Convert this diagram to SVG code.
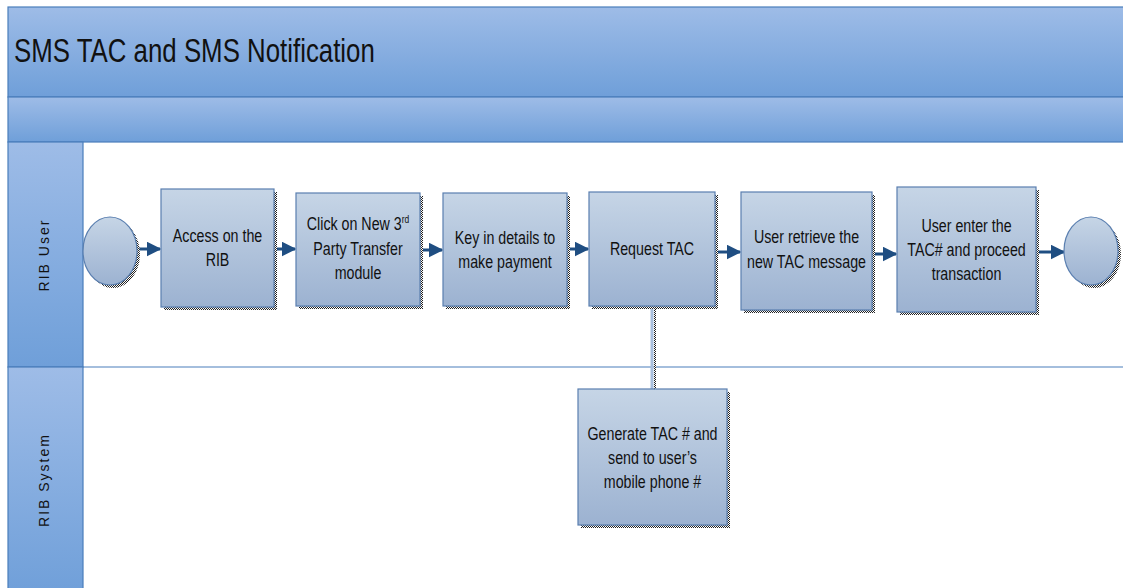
<svg xmlns="http://www.w3.org/2000/svg" width="1123" height="588" viewBox="0 0 1123 588">
<defs>
<linearGradient id="hdr" x1="0" y1="0" x2="0" y2="1">
<stop offset="0" stop-color="#9ebce7"/><stop offset="1" stop-color="#6f9fd9"/>
</linearGradient>
<linearGradient id="box" x1="0" y1="0" x2="0" y2="1">
<stop offset="0" stop-color="#c6d5e6"/><stop offset="1" stop-color="#9cb2d1"/>
</linearGradient>
<pattern id="chk" width="2" height="2" patternUnits="userSpaceOnUse">
<rect width="2" height="2" fill="#ffffff"/><rect width="1" height="1" fill="#222"/><rect x="1" y="1" width="1" height="1" fill="#222"/>
</pattern>
<marker id="ah" viewBox="0 0 10 10" refX="9" refY="5" markerWidth="5" markerHeight="5" markerUnits="strokeWidth" orient="auto">
<path d="M0,0 L10,5 L0,10 z" fill="#1f4e82"/>
</marker>
</defs>
<style>
.band{fill:url(#hdr);stroke:#4a7ebb;stroke-width:1.2}
.bx{fill:url(#box);stroke:#5a7fb0;stroke-width:1.2}
.sh{fill:url(#chk)}
.t{font-family:"Liberation Sans",sans-serif;font-size:18.5px;fill:#111;text-anchor:middle}
.lane{font-family:"Liberation Sans",sans-serif;font-size:14px;fill:#111;text-anchor:middle;letter-spacing:2px}
.c{stroke:#1f4e82;stroke-width:3;fill:none;marker-end:url(#ah)}
</style>
<rect width="1123" height="588" fill="#ffffff"/>
<g id="pool">
<rect class="band" x="8" y="7" width="1130" height="90"/>
<text transform="translate(14,62) scale(0.76,1)" font-family="'Liberation Sans',sans-serif" font-size="34" fill="#111">SMS TAC and SMS Notification</text>
<rect class="band" x="8" y="97" width="1130" height="45"/>
<rect class="band" x="8" y="142" width="75" height="225"/>
<rect class="band" x="8" y="367" width="75" height="230"/>
<line x1="83" y1="367" x2="1123" y2="367" stroke="#4a7ebb" stroke-width="1.2"/>
<text class="lane" transform="translate(49,255) rotate(-90)">RIB User</text>
<text class="lane" transform="translate(49,480) rotate(-90)">RIB System</text>
</g>
<g id="connectors">
<line x1="652" y1="306" x2="652" y2="389" stroke="#a9bfdc" stroke-width="3"/>
<line x1="655" y1="308" x2="655" y2="389" stroke="url(#chk)" stroke-width="2"/>
<line class="c" x1="137" y1="249" x2="160" y2="249"/>
<line class="c" x1="274" y1="249" x2="295" y2="249"/>
<line class="c" x1="420" y1="250" x2="442" y2="250"/>
<line class="c" x1="567" y1="249" x2="588" y2="249"/>
<line class="c" x1="715" y1="252" x2="740" y2="252"/>
<line class="c" x1="872" y1="254" x2="896" y2="254"/>
<line class="c" x1="1036" y1="252" x2="1064" y2="252"/>
</g>
<g id="start">
<ellipse class="sh" cx="113" cy="254" rx="27" ry="34"/>
<ellipse class="bx" cx="110" cy="251" rx="27" ry="34"/>
</g>
<g id="n1">
<rect class="sh" x="164" y="192" width="113" height="118"/>
<rect class="bx" x="161" y="189" width="113" height="118"/>
<text class="t" transform="translate(217.5,242) scale(0.77,1)">Access on the</text>
<text class="t" transform="translate(217.5,266) scale(0.77,1)">RIB</text>
</g>
<g id="n2">
<rect class="sh" x="299" y="196" width="124" height="113"/>
<rect class="bx" x="296" y="193" width="124" height="113"/>
<text class="t" transform="translate(358,230) scale(0.77,1)">Click on New 3<tspan font-size="11" dy="-7">rd</tspan></text>
<text class="t" transform="translate(358,255) scale(0.77,1)">Party Transfer</text>
<text class="t" transform="translate(358,279) scale(0.77,1)">module</text>
</g>
<g id="n3">
<rect class="sh" x="446" y="196" width="124" height="113"/>
<rect class="bx" x="443" y="193" width="124" height="113"/>
<text class="t" transform="translate(505,244) scale(0.77,1)">Key in details to</text>
<text class="t" transform="translate(505,268) scale(0.77,1)">make payment</text>
</g>
<g id="n4">
<rect class="sh" x="592" y="195" width="126" height="114"/>
<rect class="bx" x="589" y="192" width="126" height="114"/>
<text class="t" transform="translate(652,255) scale(0.77,1)">Request TAC</text>
</g>
<g id="n5">
<rect class="sh" x="744" y="195" width="131" height="118"/>
<rect class="bx" x="741" y="192" width="131" height="118"/>
<text class="t" transform="translate(806.5,243) scale(0.77,1)">User retrieve the</text>
<text class="t" transform="translate(806.5,268) scale(0.77,1)">new TAC message</text>
</g>
<g id="n6">
<rect class="sh" x="900" y="190" width="139" height="125"/>
<rect class="bx" x="897" y="187" width="139" height="125"/>
<text class="t" transform="translate(966.5,232) scale(0.77,1)">User enter the</text>
<text class="t" transform="translate(966.5,256) scale(0.77,1)">TAC# and proceed</text>
<text class="t" transform="translate(966.5,280) scale(0.77,1)">transaction</text>
</g>
<g id="end">
<ellipse class="sh" cx="1094" cy="254" rx="27" ry="34"/>
<ellipse class="bx" cx="1091" cy="251" rx="27" ry="34"/>
</g>
<g id="n7">
<rect class="sh" x="581" y="392" width="149" height="136"/>
<rect class="bx" x="578" y="389" width="149" height="136"/>
<text class="t" transform="translate(652.5,440) scale(0.77,1)">Generate TAC # and</text>
<text class="t" transform="translate(652.5,464) scale(0.77,1)">send to user’s</text>
<text class="t" transform="translate(652.5,488) scale(0.77,1)">mobile phone #</text>
</g>
</svg>
